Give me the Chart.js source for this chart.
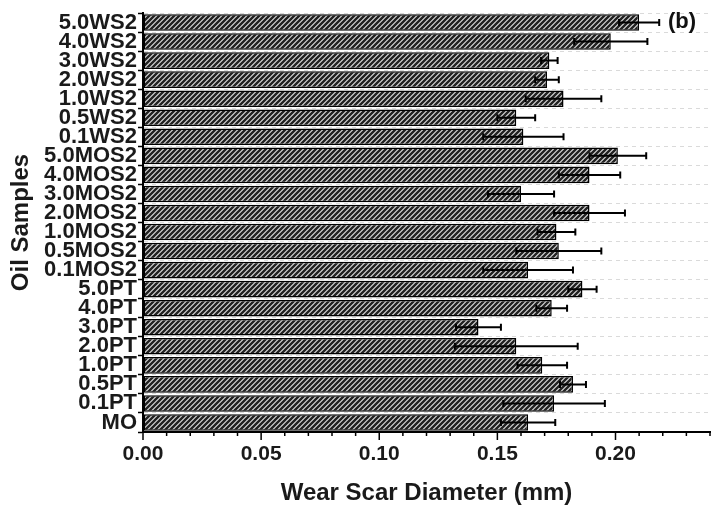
<!DOCTYPE html>
<html>
<head>
<meta charset="utf-8">
<script src="https://cdn.jsdelivr.net/npm/chart.js@4"></script>
<style>
  html, body { margin: 0; padding: 0; background: #fff; }
  #wrap { width: 711px; height: 510px; }
</style>
</head>
<body>
<div id="wrap"><canvas id="wearChart" width="711" height="510"></canvas></div>
<script>
// oil samples, top to bottom
const samples = ["5.0WS2", "4.0WS2", "3.0WS2", "2.0WS2", "1.0WS2", "0.5WS2", "0.1WS2",
    "5.0MOS2", "4.0MOS2", "3.0MOS2", "2.0MOS2", "1.0MOS2", "0.5MOS2", "0.1MOS2",
    "5.0PT", "4.0PT", "3.0PT", "2.0PT", "1.0PT", "0.5PT", "0.1PT", "MO"];
// wear scar diameter (mm)
const wsd = [0.210, 0.198, 0.172, 0.171, 0.178, 0.158, 0.161,
    0.201, 0.189, 0.160, 0.189, 0.175, 0.176, 0.163,
    0.186, 0.173, 0.142, 0.158, 0.169, 0.182, 0.174, 0.163];
// standard deviation (mm)
const wsdErr = [0.0085, 0.0155, 0.0035, 0.005, 0.016, 0.008, 0.017,
    0.012, 0.013, 0.014, 0.015, 0.008, 0.018, 0.019,
    0.006, 0.0065, 0.0095, 0.026, 0.0105, 0.0055, 0.0215, 0.0115];
const xMajorTicks = [0.00, 0.05, 0.10, 0.15, 0.20];

const labelFont = "'Liberation Sans', Arial, sans-serif";

function makeHatch() {
    const p = 5;
    const c = document.createElement("canvas");
    c.width = p;
    c.height = p;
    const g = c.getContext("2d");
    g.fillStyle = "#dedede";
    g.fillRect(0, 0, p, p);
    g.strokeStyle = "#222";
    g.lineWidth = 2.4;
    g.beginPath();
    g.moveTo(-1, p + 1); g.lineTo(p + 1, -1);
    g.moveTo(-1, 1); g.lineTo(1, -1);
    g.moveTo(p - 1, p + 1); g.lineTo(p + 1, p - 1);
    g.stroke();
    return g.createPattern(c, "repeat");
}

function isMajor(v) {
    return xMajorTicks.some(m => Math.abs(m - v) < 1e-6);
}

// error bars, x minor/major ticks and the panel tag
const extras = {
    id: "extras",
    afterDatasetsDraw(chart) {
        const ctx = chart.ctx;
        const xs = chart.scales.x;
        const ys = chart.scales.y;
        ctx.save();
        ctx.strokeStyle = "#000";
        ctx.lineWidth = 2;
        wsd.forEach((v, i) => {
            const y = ys.getPixelForValue(i);
            const x1 = xs.getPixelForValue(v - wsdErr[i]);
            const x2 = xs.getPixelForValue(v + wsdErr[i]);
            ctx.beginPath();
            ctx.moveTo(x1, y); ctx.lineTo(x2, y);
            ctx.moveTo(x1, y - 3.5); ctx.lineTo(x1, y + 3.5);
            ctx.moveTo(x2, y - 3.5); ctx.lineTo(x2, y + 3.5);
            ctx.stroke();
        });
        ctx.lineWidth = 1.5;
        xs.ticks.forEach(t => {
            const x = xs.getPixelForValue(t.value);
            const len = isMajor(t.value) ? 8 : 4;
            ctx.beginPath();
            ctx.moveTo(x, xs.top);
            ctx.lineTo(x, xs.top + len);
            ctx.stroke();
        });
        ctx.fillStyle = "#111";
        ctx.font = "bold 22px " + labelFont;
        ctx.textAlign = "left";
        ctx.textBaseline = "middle";
        ctx.fillText("(b)", 668, 22);
        ctx.restore();
    }
};

const ctx = document.getElementById("wearChart").getContext("2d");
new Chart(ctx, {
    type: "bar",
    data: {
        labels: samples,
        datasets: [{
            data: wsd,
            backgroundColor: makeHatch(),
            borderColor: "#000",
            borderWidth: 1.5,
            borderSkipped: false,
            barPercentage: 0.87,
            categoryPercentage: 1.0
        }]
    },
    options: {
        indexAxis: "y",
        responsive: false,
        animation: false,
        layout: { padding: { top: 13, right: 1, left: 0, bottom: 0 } },
        plugins: {
            legend: { display: false },
            tooltip: { enabled: false }
        },
        scales: {
            x: {
                min: 0,
                max: 0.24,
                afterFit: s => { s.height = 78; s.paddingRight = 0; s.paddingLeft = 0; },
                ticks: {
                    stepSize: 0.01,
                    autoSkip: false,
                    maxRotation: 0,
                    padding: 10,
                    color: "#1a1a1a",
                    font: { family: labelFont, size: 21, weight: "bold" },
                    callback: v => isMajor(v) ? v.toFixed(2) : ""
                },
                grid: { display: true, drawOnChartArea: false, drawTicks: false },
                border: { color: "#000", width: 2 },
                title: {
                    display: true,
                    text: "Wear Scar Diameter (mm)",
                    color: "#1a1a1a",
                    font: { family: labelFont, size: 24, weight: "bold" },
                    padding: { top: 0, bottom: 2 }
                }
            },
            y: {
                afterFit: s => { s.width = 143; },
                ticks: {
                    padding: 1,
                    autoSkip: false,
                    color: "#1a1a1a",
                    font: { family: labelFont, size: 22, weight: "bold", lineHeight: 1 }
                },
                grid: {
                    offset: true,
                    color: "#dadada",
                    lineWidth: 1,
                    tickColor: "#000",
                    tickLength: 5,
                    tickWidth: 1.5
                },
                border: { color: "#000", width: 2, dash: [4, 4] },
                title: {
                    display: true,
                    text: "Oil Samples",
                    color: "#1a1a1a",
                    font: { family: labelFont, size: 24, weight: "bold" },
                    padding: { top: 7, bottom: 0 }
                }
            }
        }
    },
    plugins: [extras]
});
</script>
</body>
</html>
